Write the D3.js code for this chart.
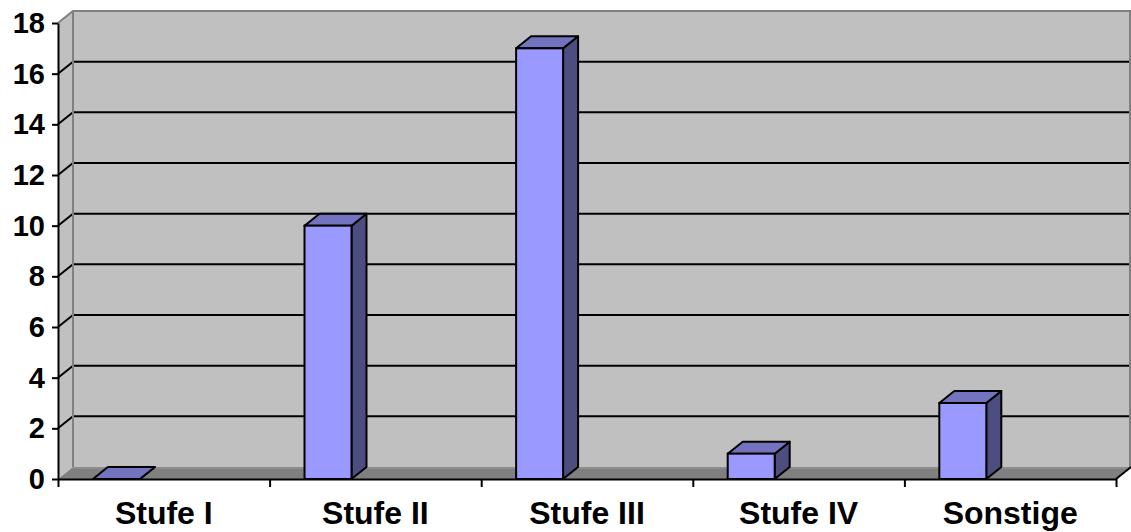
<!DOCTYPE html>
<html>
<head>
<meta charset="utf-8">
<script src="https://cdn.jsdelivr.net/npm/d3@7"></script>
<style>
  html, body { margin: 0; padding: 0; background: #fff; }
  svg { display: block; }
  text { font-family: "Liberation Sans", Arial, sans-serif; font-weight: bold; fill: #000; }
</style>
</head>
<body>
<svg id="chart" width="1131" height="532"></svg>
<script>
// Category names and counts
const categories = ["Stufe I", "Stufe II", "Stufe III", "Stufe IV", "Sonstige"];
const values = [0, 10, 17, 1, 3];
const yTicks = [0, 2, 4, 6, 8, 10, 12, 14, 16, 18];

(function () {
const W = 1131;
const plotLeft = 58, plotRight = 1116, plotBottom = 479, plotTop = 23;
const depthX = 15, depthY = -12;   // oblique offset of the back plane

const svg = d3.select("#chart");

const x = d3.scaleBand().domain(categories).range([plotLeft, plotRight]).paddingInner(0).paddingOuter(0);
const y = d3.scaleLinear().domain([0, 18]).range([plotBottom, plotTop]);
const xEdges = d3.scaleLinear().domain([0, categories.length]).range([plotLeft, plotRight]);

const pts = a => a.map(p => p.join(",")).join(" ");

// Back wall
svg.append("polygon")
  .attr("points", pts([[plotLeft + depthX, y(18) + depthY], [W, y(18) + depthY], [W, y(0) + depthY], [plotLeft + depthX, y(0) + depthY]]))
  .attr("fill", "#c0c0c0");

// Side wall
svg.append("polygon")
  .attr("points", pts([[plotLeft, y(18)], [plotLeft + depthX, y(18) + depthY], [plotLeft + depthX, y(0) + depthY], [plotLeft, y(0)]]))
  .attr("fill", "#c0c0c0");

// Floor
svg.append("polygon")
  .attr("points", pts([[plotLeft, y(0)], [plotRight, y(0)], [plotRight + depthX, y(0) + depthY], [plotLeft + depthX, y(0) + depthY]]))
  .attr("fill", "#808080");
svg.append("line")
  .attr("x1", plotLeft + depthX).attr("x2", W)
  .attr("y1", y(0) + depthY + 1).attr("y2", y(0) + depthY + 1)
  .attr("stroke", "#9a9a9a").attr("stroke-width", 1);

// Gridlines on back and side walls
const grid = yTicks.filter(v => v > 0 && v < 18);
svg.append("g").selectAll("line").data(grid).join("line")
  .attr("x1", plotLeft + depthX).attr("x2", W)
  .attr("y1", d => y(d) + depthY).attr("y2", d => y(d) + depthY)
  .attr("stroke", "#000").attr("stroke-width", 2);
svg.append("g").selectAll("line").data(grid).join("line")
  .attr("x1", plotLeft).attr("x2", plotLeft + depthX)
  .attr("y1", d => y(d)).attr("y2", d => y(d) + depthY)
  .attr("stroke", "#000").attr("stroke-width", 2);

// Wall edges
svg.append("polyline")
  .attr("points", pts([[plotLeft, y(18)], [plotLeft + depthX, y(18) + depthY], [W, y(18) + depthY]]))
  .attr("fill", "none").attr("stroke", "#808080").attr("stroke-width", 2);
svg.append("line")
  .attr("x1", plotLeft + depthX).attr("x2", plotLeft + depthX)
  .attr("y1", y(18) + depthY).attr("y2", y(0) + depthY)
  .attr("stroke", "#808080").attr("stroke-width", 2);
svg.append("line")
  .attr("x1", W - 1).attr("x2", W - 1)
  .attr("y1", y(18) + depthY).attr("y2", y(0) + depthY)
  .attr("stroke", "#808080").attr("stroke-width", 2);
svg.append("line")
  .attr("x1", plotRight).attr("x2", plotRight + depthX)
  .attr("y1", y(0)).attr("y2", y(0) + depthY)
  .attr("stroke", "#000").attr("stroke-width", 2);

// Columns
const bw = x.bandwidth() * 0.222;
const bOff = x.bandwidth() * 0.165;
const bars = svg.append("g").selectAll("g").data(categories.map((c, i) => ({ c, v: values[i] }))).join("g");
bars.each(function (d) {
  const g = d3.select(this);
  const x0 = x(d.c) + bOff, x1 = x0 + bw;
  const yt = y(d.v), yb = y(0);
  // right side
  g.append("polygon")
    .attr("points", pts([[x1, yt], [x1 + depthX, yt + depthY], [x1 + depthX, yb + depthY], [x1, yb]]))
    .attr("fill", "#4d4d80").attr("stroke", "#000").attr("stroke-width", 2).attr("stroke-linejoin", "round");
  // top
  g.append("polygon")
    .attr("points", pts([[x0, yt], [x0 + depthX, yt + depthY], [x1 + depthX, yt + depthY], [x1, yt]]))
    .attr("fill", "#7373bf").attr("stroke", "#000").attr("stroke-width", 2).attr("stroke-linejoin", "round");
  // front
  if (d.v > 0) {
    g.append("rect")
      .attr("x", x0).attr("y", yt).attr("width", bw).attr("height", yb - yt)
      .attr("fill", "#9999ff").attr("stroke", "#000").attr("stroke-width", 2);
  }
});

// Value axis
const yAxis = svg.append("g")
  .attr("transform", `translate(${plotLeft},0)`)
  .call(d3.axisLeft(y).tickValues(yTicks).tickSize(6).tickSizeOuter(0).tickPadding(7).tickFormat(d3.format("d")));
yAxis.select(".domain").attr("stroke", "#000").attr("stroke-width", 2);
yAxis.selectAll(".tick line").attr("stroke", "#000").attr("stroke-width", 2);
yAxis.selectAll("text").attr("font-size", 29).attr("dy", "0.33em")
  .attr("font-family", "'Liberation Sans', Arial, sans-serif").attr("font-weight", "bold");

// Category axis: boundary ticks
const xTickAxis = svg.append("g")
  .attr("transform", `translate(0,${plotBottom})`)
  .call(d3.axisBottom(xEdges).tickValues(d3.range(categories.length + 1)).tickSize(8).tickSizeOuter(0).tickFormat(""));
xTickAxis.select(".domain").attr("stroke", "#000").attr("stroke-width", 2);
xTickAxis.selectAll(".tick line").attr("stroke", "#000").attr("stroke-width", 2);

// Category axis: labels centred in each band
const xLabelAxis = svg.append("g")
  .attr("transform", `translate(0,${plotBottom})`)
  .call(d3.axisBottom(x).tickSize(0).tickPadding(0));
xLabelAxis.select(".domain").remove();
xLabelAxis.selectAll("text").attr("font-size", 32).attr("y", 45).attr("dy", 0)
  .attr("font-family", "'Liberation Sans', Arial, sans-serif").attr("font-weight", "bold");
})();
</script>
</body>
</html>
